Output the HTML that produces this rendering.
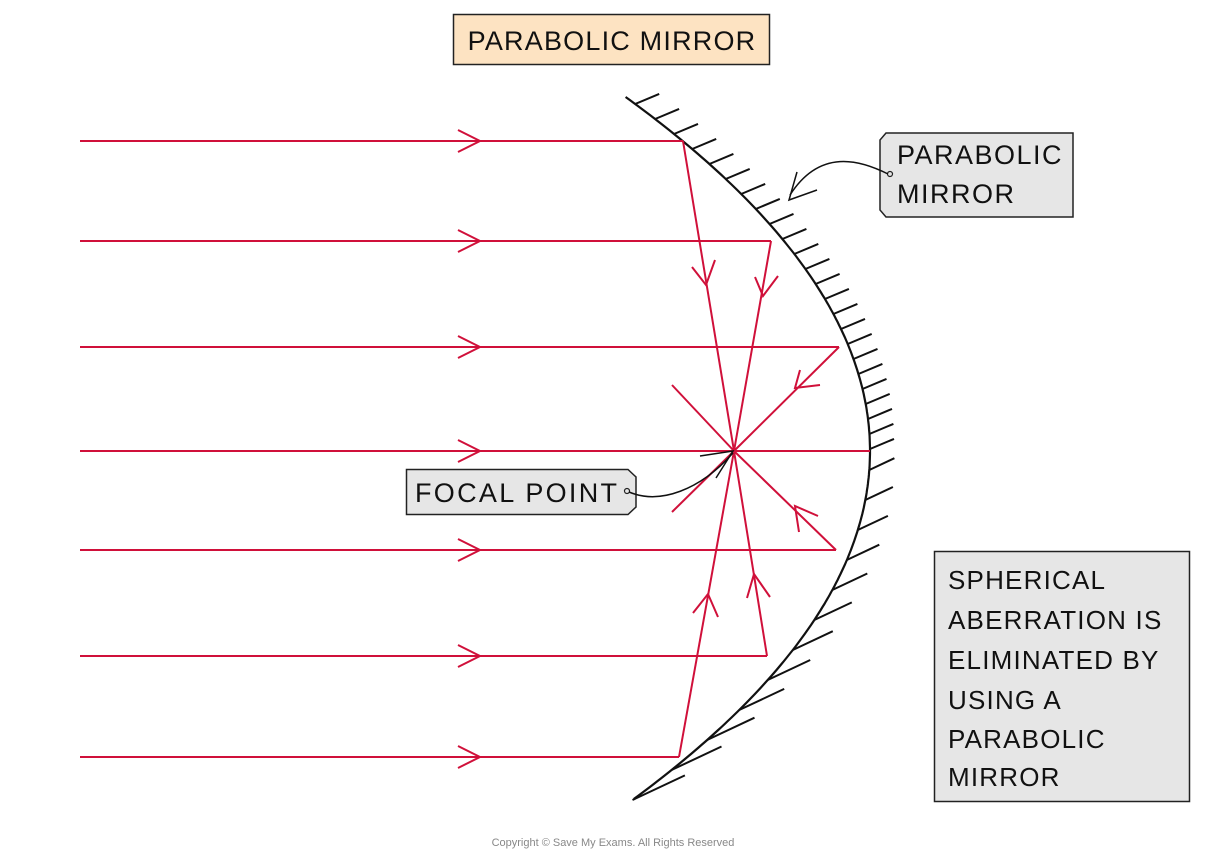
<!DOCTYPE html>
<html><head><meta charset="utf-8"><style>
html,body{margin:0;padding:0;background:#fff;}
body{width:1226px;height:859px;overflow:hidden;}
svg text{font-family:"Liberation Sans",sans-serif;fill:#111;}
</style></head><body>
<svg id="s" width="1226" height="859" viewBox="0 0 1226 859" xmlns="http://www.w3.org/2000/svg">
<rect x="453.5" y="14.5" width="316" height="50" fill="#fde3c2" stroke="#222" stroke-width="1.5"/>
<text x="612" y="50" font-size="27" text-anchor="middle" letter-spacing="1.2">PARABOLIC MIRROR</text>

<g id="mirror"></g>

<g stroke="#d0103a" stroke-width="2" fill="none">
 <line x1="80" y1="141" x2="683" y2="141"/>
 <line x1="80" y1="241" x2="771" y2="241"/>
 <line x1="80" y1="347" x2="839" y2="347"/>
 <line x1="80" y1="451" x2="870" y2="451"/>
 <line x1="80" y1="550" x2="836" y2="550"/>
 <line x1="80" y1="656" x2="767" y2="656"/>
 <line x1="80" y1="757" x2="679" y2="757"/>
 <path d="M458 130 L480 141 L458 152"/>
 <path d="M458 230 L480 241 L458 252"/>
 <path d="M458 336 L480 347 L458 358"/>
 <path d="M458 440 L480 451 L458 462"/>
 <path d="M458 539 L480 550 L458 561"/>
 <path d="M458 645 L480 656 L458 667"/>
 <path d="M458 746 L480 757 L458 768"/>
 <line x1="683" y1="141" x2="734" y2="451"/>
 <line x1="771" y1="241" x2="734" y2="451"/>
 <line x1="839" y1="347" x2="734" y2="451"/>
 <line x1="734" y1="451" x2="672" y2="512"/>
 <line x1="836" y1="550" x2="734" y2="451"/>
 <line x1="734" y1="451" x2="672" y2="385"/>
 <line x1="767" y1="656" x2="734" y2="451"/>
 <line x1="679" y1="757" x2="734" y2="451"/>
 <path d="M692 267 L706 285 L715 260"/>
 <path d="M755 277 L763 296 L778 276"/>
 <path d="M800 370 L795 388 L820 385"/>
 <path d="M799 532 L795 506 L818 516"/>
 <path d="M747 598 L754 574 L770 597"/>
 <path d="M693 613 L708 594 L718 617"/>
</g>

<path d="M886 133 L1073 133 L1073 217 L886 217 L880 210 L880 140 Z" fill="#e6e6e6" stroke="#222" stroke-width="1.5"/>
<text x="897" y="164" font-size="27" letter-spacing="1.5">PARABOLIC</text>
<text x="897" y="203" font-size="27" letter-spacing="1.5">MIRROR</text>
<circle cx="890" cy="174" r="2.5" fill="none" stroke="#222" stroke-width="1.2"/>
<path d="M888 174 C860 160 820 148 790 195" fill="none" stroke="#111" stroke-width="1.5"/>
<path d="M797 172 L789 200 L817 190" fill="none" stroke="#111" stroke-width="1.5"/>

<path d="M406.5 469.5 L628 469.5 L636 477 L636 507 L628 514.5 L406.5 514.5 Z" fill="#e6e6e6" stroke="#222" stroke-width="1.5"/>
<text x="415" y="502" font-size="27" letter-spacing="2.3">FOCAL POINT</text>
<circle cx="627" cy="491" r="2.5" fill="none" stroke="#222" stroke-width="1.2"/>
<path d="M629 492 C660 505 700 490 733 453" fill="none" stroke="#111" stroke-width="1.5"/>
<path d="M700 456 L733 451 L716 478" fill="none" stroke="#111" stroke-width="1.5"/>

<rect x="934.5" y="551.5" width="255" height="250" fill="#e6e6e6" stroke="#222" stroke-width="1.5"/>
<g font-size="26" letter-spacing="1.2">
<text x="948" y="589">SPHERICAL</text>
<text x="948" y="629">ABERRATION IS</text>
<text x="948" y="669">ELIMINATED BY</text>
<text x="948" y="709">USING A</text>
<text x="948" y="748">PARABOLIC</text>
<text x="948" y="786">MIRROR</text>
</g>

<text x="613" y="846" font-size="11" text-anchor="middle" style="fill:#888">Copyright © Save My Exams. All Rights Reserved</text>
</svg>
<script>
(function(){
 var g=document.getElementById('mirror'),k=0.00195,d='',h='';
 function X(y){return 870-k*(y-451)*(y-451);}
 for(var y=97;y<=800;y+=3){d+=(y==97?'M':'L')+X(y).toFixed(1)+' '+y+' ';}
 var p=document.createElementNS('http://www.w3.org/2000/svg','path');
 p.setAttribute('d',d);p.setAttribute('fill','none');p.setAttribute('stroke','#111');p.setAttribute('stroke-width','2.2');
 g.appendChild(p);
 var ys=[];
 for(var y=104;y<=451;y+=15) ys.push(y);
 for(var y=470;y<=800;y+=30) ys.push(y);
 ys.forEach(function(y){
  var x=X(y),len,dy;
  if(y<=451){len=26;dy=-0.42;}else{len=26+(y-451)/350*32;dy=-0.47;}
  var n=Math.sqrt(1+dy*dy);
  h+='M'+x.toFixed(1)+' '+y+' l'+(len/n).toFixed(1)+' '+(len*dy/n).toFixed(1)+' ';
 });
 var q=document.createElementNS('http://www.w3.org/2000/svg','path');
 q.setAttribute('d',h);q.setAttribute('fill','none');q.setAttribute('stroke','#111');q.setAttribute('stroke-width','2');
 g.appendChild(q);
})();
</script>
</body></html>
